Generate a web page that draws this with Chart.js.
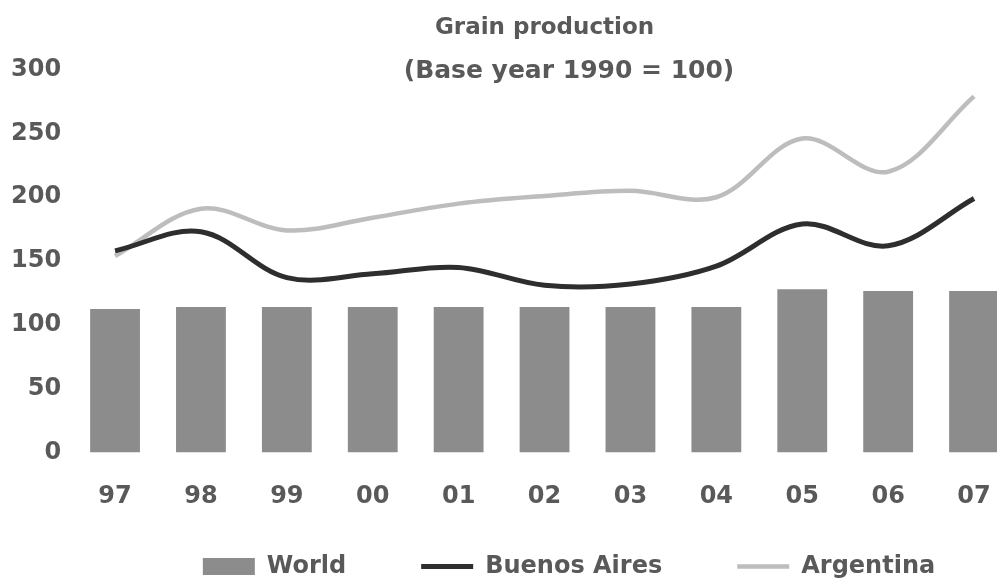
<!DOCTYPE html>
<html>
<head>
<meta charset="utf-8">
<title>Grain production</title>
<script src="https://cdn.jsdelivr.net/npm/chart.js@4"></script>
<style>
    html, body { margin: 0; padding: 0; background: #ffffff; overflow: hidden; }
    .chart-box { width: 1138px; height: 583px; }
</style>
</head>
<body>
<div class="chart-box"><canvas id="grainChart"></canvas></div>
<script>
// Dados (índice, base 1990 = 100)
const years = ["97", "98", "99", "00", "01", "02", "03", "04", "05", "06", "07"];
const worldData = [112.5, 114, 114, 114, 114, 114, 114, 114, 128, 126.5, 126.5];
const buenosAiresData = [158, 173, 137, 140, 145, 131, 132, 146, 179, 162, 199];
const argentinaData = [154, 191, 174, 184, 195, 201, 205, 200, 246, 220, 279];
const yTicks = [0, 50, 100, 150, 200, 250, 300];

const textGray = "#595959";

Chart.defaults.font.family = "'DejaVu Sans', sans-serif";
Chart.defaults.font.weight = "bold";
Chart.defaults.font.size = 24;
Chart.defaults.color = textGray;

const ctx = document.getElementById("grainChart").getContext("2d");

const grainChart = new Chart(ctx, {
    type: "bar",
    data: {
        labels: years,
        datasets: [
            { label: "World", data: worldData, backgroundColor: "#8c8c8c", borderWidth: 0, categoryPercentage: 0.58, barPercentage: 1, pointStyle: "rect" },
            { type: "line", label: "Buenos Aires", data: buenosAiresData, borderColor: "#2e2e2e", backgroundColor: "#2e2e2e", borderWidth: 5, tension: 0.35, pointRadius: 0, pointStyle: "line", fill: false },
            { type: "line", label: "Argentina", data: argentinaData, borderColor: "#bdbdbd", backgroundColor: "#bdbdbd", borderWidth: 4.5, tension: 0.35, pointRadius: 0, pointStyle: "line", fill: false }
        ]
    },
    options: {
        responsive: true,
        maintainAspectRatio: false,
        animation: false,
        layout: { padding: 0 },
        plugins: {
            title: {
                display: true,
                text: "Grain production",
                fullSize: false,
                color: textGray,
                font: { size: 23, weight: "bold" },
                padding: { top: 14, bottom: 0 }
            },
            subtitle: {
                display: true,
                text: "(Base year 1990 = 100)",
                color: textGray,
                font: { size: 25, weight: "bold" },
                padding: { top: 15, bottom: -17 }
            },
            legend: {
                position: "bottom",
                maxHeight: 41.7,
                // título vazio com padding negativo: aproxima os itens dos rótulos do eixo x
                title: { display: true, text: "", font: { size: 24 }, padding: { top: 0, bottom: -90.6 } },
                labels: {
                    usePointStyle: true,
                    pointStyleWidth: 52,
                    boxHeight: 17,
                    padding: 75,
                    color: textGray,
                    font: { size: 24, weight: "bold" },
                    sort: (a, b) => a.datasetIndex - b.datasetIndex
                }
            },
            tooltip: { enabled: false }
        },
        scales: {
            x: {
                grid: { display: false, drawTicks: false },
                border: { display: false },
                ticks: { padding: 30, color: textGray }
            },
            y: {
                min: 0,
                max: 300,
                grid: { display: false, drawTicks: false },
                border: { display: false },
                afterBuildTicks: (scale) => { scale.ticks = yTicks.map(v => ({ value: v })); },
                ticks: { padding: 11, color: textGray }
            },
            // eixo vazio à direita: a área do gráfico passa da borda da imagem
            y2: {
                position: "right",
                grid: { display: false, drawTicks: false },
                border: { display: false },
                ticks: { display: false },
                afterFit: (scale) => { scale.width = 121; }
            }
        }
    }
});
</script>
</body>
</html>
